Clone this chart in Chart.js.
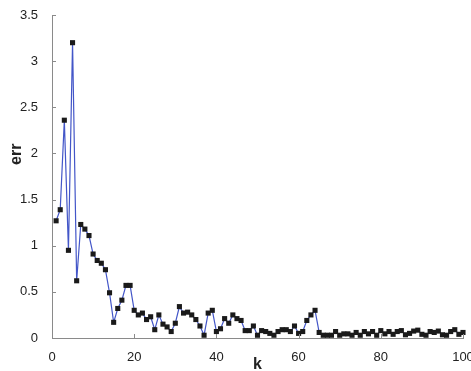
<!DOCTYPE html>
<html>
<head>
<meta charset="utf-8">
<script src="https://cdn.jsdelivr.net/npm/chart.js@4"></script>
<style>
  html, body { margin: 0; padding: 0; background: #fff; }
  #wrap { width: 471px; height: 371px; }
</style>
</head>
<body>
<div id="wrap"><canvas id="c" width="471" height="371"></canvas></div>
<script>
// 數據：k = 1..100
const errValues = [
  1.27, 1.39, 2.36, 0.95, 3.20, 0.62, 1.23, 1.18, 1.11, 0.91,
  0.84, 0.81, 0.74, 0.49, 0.17, 0.32, 0.41, 0.57, 0.57, 0.30,
  0.25, 0.27, 0.20, 0.23, 0.09, 0.25, 0.15, 0.12, 0.07, 0.16,
  0.34, 0.27, 0.28, 0.25, 0.20, 0.13, 0.03, 0.27, 0.30, 0.07,
  0.10, 0.21, 0.16, 0.25, 0.21, 0.19, 0.08, 0.08, 0.13, 0.03,
  0.08, 0.07, 0.05, 0.03, 0.07, 0.09, 0.09, 0.07, 0.13, 0.05,
  0.07, 0.19, 0.25, 0.30, 0.06, 0.03, 0.03, 0.03, 0.07, 0.03,
  0.045, 0.045, 0.03, 0.06, 0.03, 0.07, 0.045, 0.07, 0.03, 0.08,
  0.045, 0.07, 0.04, 0.07, 0.08, 0.035, 0.05, 0.075, 0.085, 0.04,
  0.03, 0.07, 0.06, 0.075, 0.035, 0.03, 0.07, 0.09, 0.04, 0.06
];
const kValues = errValues.map((v, i) => i + 1);
const xTicks = [0, 20, 40, 60, 80, 100];
const yTicks = [0, 0.5, 1, 1.5, 2, 2.5, 3, 3.5];

const points = kValues.map((k, i) => ({ x: k, y: errValues[i] }));

// 刻度線畫在圖內
const innerTicks = {
  id: 'innerTicks',
  afterDraw(chart) {
    const ctx = chart.ctx;
    const area = chart.chartArea;
    const xs = chart.scales.x, ys = chart.scales.y;
    ctx.save();
    ctx.strokeStyle = '#8a8a8a';
    ctx.lineWidth = 1;
    ctx.beginPath();
    xTicks.forEach(t => {
      const px = Math.round(xs.getPixelForValue(t)) + 0.5;
      ctx.moveTo(px, area.bottom);
      ctx.lineTo(px, area.bottom - 4);
    });
    yTicks.forEach(t => {
      const py = Math.round(ys.getPixelForValue(t)) + 0.5;
      ctx.moveTo(area.left, py);
      ctx.lineTo(area.left + 4, py);
    });
    ctx.stroke();
    ctx.restore();
  }
};

new Chart(document.getElementById('c'), {
  type: 'line',
  data: {
    datasets: [{
      data: points,
      borderColor: '#4356c8',
      borderWidth: 1.2,
      pointStyle: 'rect',
      pointRadius: 3.6,
      pointBackgroundColor: '#1a1a1a',
      pointBorderColor: '#1a1a1a',
      pointBorderWidth: 0,
      tension: 0,
      clip: false
    }]
  },
  options: {
    responsive: false,
    animation: false,
    layout: { padding: { top: 15, right: 8, left: 0, bottom: 0 } },
    plugins: { legend: { display: false }, tooltip: { enabled: false } },
    scales: {
      x: {
        type: 'linear',
        min: 0, max: 100,
        afterBuildTicks: s => { s.ticks = xTicks.map(v => ({ value: v })); },
        afterFit: s => { s.height = 33; s.paddingRight = 0; },
        grid: { display: false },
        border: { display: true, color: '#8a8a8a', width: 1 },
        ticks: { color: '#222', font: { family: 'Liberation Sans', size: 13 }, padding: 4, maxRotation: 0 },
        title: { display: true, text: 'k', color: '#222', font: { family: 'Liberation Sans', size: 16, weight: 'bold' }, padding: { top: 0, bottom: -3 } }
      },
      y: {
        min: 0, max: 3.5,
        afterBuildTicks: s => { s.ticks = yTicks.map(v => ({ value: v })); },
        afterFit: s => { s.width = 52; s.paddingTop = 0; },
        grid: { display: false },
        border: { display: true, color: '#8a8a8a', width: 1 },
        ticks: { color: '#222', font: { family: 'Liberation Sans', size: 13 }, padding: 6, callback: v => String(v) },
        title: { display: true, text: '          err', color: '#222', font: { family: 'Liberation Sans', size: 16, weight: 'bold' }, padding: { top: 7, bottom: 0 } }
      }
    }
  },
  plugins: [innerTicks]
});
</script>
</body>
</html>
